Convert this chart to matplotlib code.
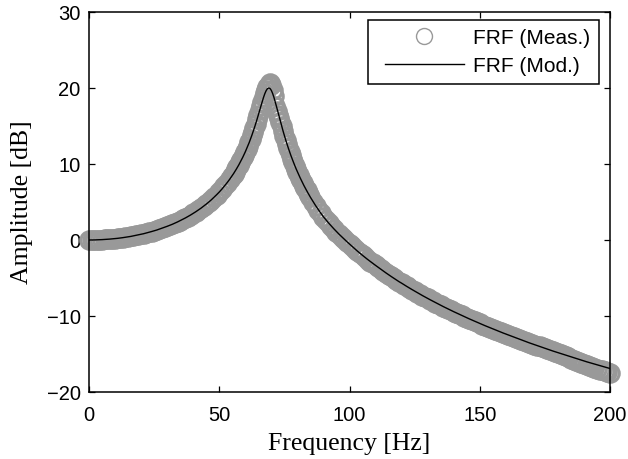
import matplotlib
matplotlib.use("Agg")
import matplotlib.pyplot as plt
from matplotlib.lines import Line2D
from matplotlib.legend_handler import HandlerLine2D

# ---------------- data ----------------
freq_low = [0, 1, 2, 3, 4, 5, 6, 7, 8, 9, 10, 11, 12, 13, 14, 15, 16, 17, 18, 19,
            20, 21, 22, 23, 24, 25, 26, 27, 28, 29, 30, 31, 32, 33, 34, 35, 36, 37,
            38, 39, 40, 41, 42, 43, 44, 45, 46, 47, 48, 49, 50, 51, 52, 53, 54]
freq_mid = [55.0, 55.5, 56.0, 56.5, 57.0, 57.5, 58.0, 58.5, 59.0, 59.5, 60.0, 60.5,
            61.0, 61.5, 62.0, 62.5, 63.0, 63.5, 64.0, 64.5, 65.0, 65.5, 66.0, 66.5,
            67.0, 67.5, 68.0, 68.5, 69.0, 69.5, 70.0, 70.5, 71.0, 71.5, 72.0, 72.5,
            73.0, 73.5, 74.0, 74.5, 75.0, 75.5, 76.0, 76.5, 77.0, 77.5, 78.0, 78.5,
            79.0, 79.5, 80.0, 80.5, 81.0, 81.5, 82.0, 82.5, 83.0, 83.5, 84.0, 84.5]
freq_high = [85, 86, 87, 88, 89, 90, 91, 92, 93, 94, 95, 96, 97, 98, 99, 100,
             101, 102, 103, 104, 105, 106, 107, 108, 109, 110, 111, 112, 113, 114,
             115, 116, 117, 118, 119, 120, 121, 122, 123, 124, 125, 126, 127, 128,
             129, 130, 131, 132, 133, 134, 135, 136, 137, 138, 139, 140, 141, 142,
             143, 144, 145, 146, 147, 148, 149, 150, 151, 152, 153, 154, 155, 156,
             157, 158, 159, 160, 161, 162, 163, 164, 165, 166, 167, 168, 169, 170,
             171, 172, 173, 174, 175, 176, 177, 178, 179, 180, 181, 182, 183, 184,
             185, 186, 187, 188, 189, 190, 191, 192, 193, 194, 195, 196, 197, 198,
             199, 200]

# model FRF amplitude [dB]
mod_low = [0.00, 0.00, 0.01, 0.02, 0.03, 0.05, 0.07, 0.09, 0.12, 0.15, 0.18, 0.22,
           0.26, 0.31, 0.36, 0.42, 0.47, 0.54, 0.61, 0.68, 0.75, 0.83, 0.92, 1.01,
           1.11, 1.21, 1.31, 1.43, 1.54, 1.67, 1.80, 1.93, 2.07, 2.22, 2.38, 2.55,
           2.72, 2.90, 3.09, 3.29, 3.50, 3.72, 3.95, 4.19, 4.45, 4.72, 5.00, 5.30,
           5.62, 5.96, 6.31, 6.69, 7.10, 7.53, 7.99]
mod_mid = [8.48, 8.74, 9.01, 9.29, 9.58, 9.88, 10.20, 10.53, 10.87, 11.23, 11.60,
           12.00, 12.41, 12.83, 13.28, 13.76, 14.25, 14.77, 15.31, 15.87, 16.44,
           17.04, 17.63, 18.21, 18.77, 19.26, 19.65, 19.91, 20.01, 19.93, 19.68,
           19.27, 18.76, 18.17, 17.53, 16.88, 16.22, 15.57, 14.94, 14.33, 13.74,
           13.17, 12.63, 12.11, 11.61, 11.12, 10.66, 10.22, 9.79, 9.37, 8.98, 8.59,
           8.22, 7.86, 7.51, 7.17, 6.84, 6.53, 6.22, 5.92]
mod_high = [5.62, 5.06, 4.52, 4.01, 3.52, 3.05, 2.63, 2.23, 1.84, 1.47, 1.11, 0.76,
            0.43, 0.11, -0.22, -0.53, -0.85, -1.15, -1.45, -1.74, -2.02, -2.30,
            -2.57, -2.83, -3.09, -3.34, -3.59, -3.84, -4.09, -4.33, -4.57, -4.80,
            -5.03, -5.25, -5.48, -5.68, -5.90, -6.11, -6.32, -6.52, -6.72, -6.92,
            -7.11, -7.31, -7.50, -7.68, -7.87, -8.05, -8.23, -8.41, -8.58, -8.76,
            -8.93, -9.09, -9.26, -9.43, -9.59, -9.75, -9.91, -10.07, -10.22, -10.38,
            -10.53, -10.68, -10.83, -10.98, -11.12, -11.27, -11.41, -11.55, -11.69,
            -11.83, -11.97, -12.11, -12.24, -12.37, -12.51, -12.64, -12.77, -12.90,
            -13.03, -13.15, -13.28, -13.40, -13.53, -13.65, -13.77, -13.89, -14.01,
            -14.13, -14.25, -14.37, -14.48, -14.60, -14.71, -14.83, -14.94, -15.05,
            -15.16, -15.27, -15.38, -15.49, -15.60, -15.71, -15.81, -15.92, -16.02,
            -16.12, -16.22, -16.32, -16.42, -16.52, -16.62, -16.72, -16.81, -16.91]

# measured FRF amplitude [dB]
meas_low = [0.00, 0.00, 0.01, 0.02, 0.03, 0.05, 0.07, 0.09, 0.12, 0.15, 0.18, 0.22,
            0.26, 0.31, 0.36, 0.42, 0.47, 0.54, 0.61, 0.68, 0.75, 0.83, 0.92, 1.01,
            1.11, 1.21, 1.31, 1.43, 1.54, 1.67, 1.80, 1.93, 2.07, 2.22, 2.38, 2.55,
            2.72, 2.90, 3.09, 3.29, 3.50, 3.72, 3.95, 4.19, 4.45, 4.72, 5.00, 5.30,
            5.62, 5.96, 6.31, 6.69, 7.10, 7.53, 7.99]
meas_mid = [8.48, 8.74, 9.01, 9.29, 9.58, 9.88, 10.20, 10.53, 10.87, 11.23, 11.60,
            12.00, 12.41, 12.83, 13.28, 13.76, 14.25, 14.77, 15.31, 15.87, 16.44,
            17.04, 17.63, 18.21, 18.77, 19.30, 19.75, 20.10, 20.45, 20.60, 20.40,
            19.80, 18.90, 17.60, 17.00, 16.50, 16.05, 15.50, 14.94, 14.33, 13.74,
            13.17, 12.63, 12.11, 11.61, 11.12, 10.66, 10.22, 9.79, 9.37, 8.98, 8.59,
            8.22, 7.86, 7.51, 7.17, 6.84, 6.53, 6.22, 5.92]
meas_high = [5.62, 5.06, 4.52, 4.01, 3.52, 3.05, 2.63, 2.23, 1.84, 1.47, 1.11, 0.76,
             0.43, 0.11, -0.22, -0.53, -0.85, -1.15, -1.45, -1.74, -2.02, -2.30,
             -2.57, -2.83, -3.09, -3.34, -3.59, -3.84, -4.09, -4.33, -4.57, -4.80,
             -5.03, -5.25, -5.48, -5.68, -5.90, -6.11, -6.32, -6.52, -6.72, -6.92,
             -7.11, -7.31, -7.50, -7.68, -7.87, -8.05, -8.23, -8.41, -8.58, -8.76,
             -8.93, -9.09, -9.26, -9.43, -9.59, -9.75, -9.91, -10.07, -10.22, -10.38,
             -10.53, -10.68, -10.83, -10.98, -11.12, -11.27, -11.41, -11.55, -11.69,
             -11.83, -11.97, -12.11, -12.24, -12.37, -12.51, -12.64, -12.77, -12.90,
             -13.03, -13.15, -13.28, -13.40, -13.53, -13.65, -13.77, -13.89, -14.01,
             -14.13, -14.25, -14.39, -14.51, -14.64, -14.77, -14.91, -15.04, -15.17,
             -15.30, -15.43, -15.60, -15.73, -15.88, -16.07, -16.20, -16.36, -16.48,
             -16.60, -16.71, -16.82, -16.94, -17.06, -17.16, -17.28, -17.39, -17.51]

freq = freq_low + freq_mid + freq_high
amp_mod = mod_low + mod_mid + mod_high
amp_meas = meas_low + meas_mid + meas_high

x_ticks = [0, 50, 100, 150, 200]
y_ticks = [-20, -10, 0, 10, 20, 30]
labels = ["FRF (Meas.)", "FRF (Mod.)"]

# ---------------- figure ----------------
SANS = ["Liberation Sans", "DejaVu Sans"]
SERIF = ["Liberation Serif", "DejaVu Serif"]
gray = "#999999"

fig = plt.figure(figsize=(6.28, 4.59), dpi=100)
ax = fig.add_axes([89 / 628, 1 - 392 / 459, (610 - 89) / 628, (392 - 12) / 459])

ax.plot(freq, amp_meas, linestyle="none", marker="o", markersize=12.5,
        markerfacecolor="none", markeredgecolor=gray, markeredgewidth=2.3,
        clip_on=False, zorder=2)
ax.plot(freq, amp_mod, color="black", linewidth=1.0, zorder=3)

ax.set_xlim(0, 200)
ax.set_ylim(-20, 30)
ax.set_xticks(x_ticks)
ax.set_yticks(y_ticks)
ax.tick_params(axis="both", which="both", direction="in", length=4, width=0.9,
               top=True, right=True, labelsize=14.5, colors="black")
ax.tick_params(axis="x", pad=10)
ax.tick_params(axis="y", pad=6)
for lab in ax.get_xticklabels() + ax.get_yticklabels():
    lab.set_family(SANS)
for sp in ax.spines.values():
    sp.set_linewidth(1.1)
    sp.set_color("black")

ax.set_xlabel("Frequency [Hz]", fontsize=18.5, family=SERIF, labelpad=6)
ax.set_ylabel("Amplitude [dB]", fontsize=18.5, family=SERIF, labelpad=10)

h_meas = Line2D([], [], linestyle="none", marker="o", markersize=11.5,
                markerfacecolor="none", markeredgecolor=gray, markeredgewidth=1.0)
h_mod = Line2D([], [], color="black", linewidth=1.0)
leg = ax.legend([h_meas, h_mod], labels, loc="upper right",
                bbox_to_anchor=(1 - 11 / 521, 1 - 8 / 380),
                borderaxespad=0, prop={"family": SANS, "size": 15},
                handlelength=4.2, handletextpad=0.45, labelspacing=0.42,
                borderpad=0.42, fancybox=False, framealpha=1, edgecolor="black",
                handler_map={h_meas: HandlerLine2D(xpad=0.4),
                             h_mod: HandlerLine2D(xpad=0.4)})
leg.get_frame().set_linewidth(1.1)

fig.savefig("out.png", dpi=100)
